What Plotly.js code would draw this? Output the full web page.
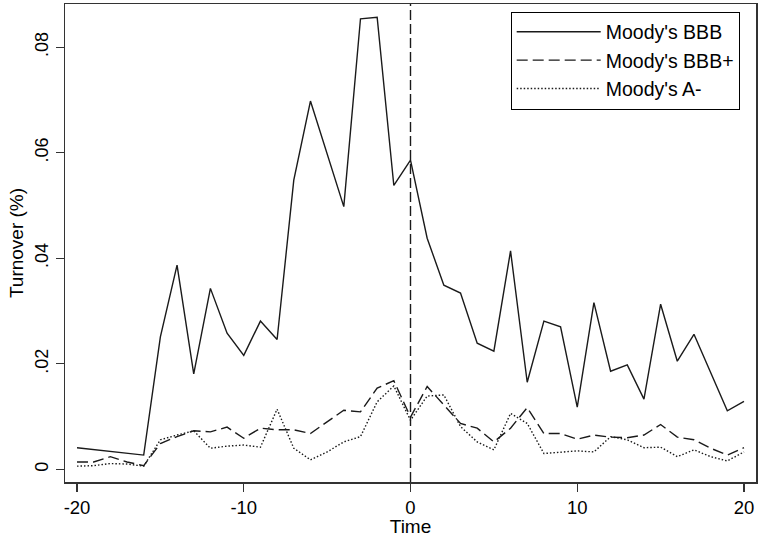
<!DOCTYPE html>
<html>
<head>
<meta charset="utf-8">
<script src="https://cdn.plot.ly/plotly-3.0.1.min.js"></script>
<style>html,body{margin:0;padding:0;background:#fff;}#chart{width:758px;height:537px;}</style>
</head>
<body>
<div id="chart"></div>
<script>
// Series names
const seriesNames = ["Moody's BBB", "Moody's BBB+", "Moody's A-"];

// Moody's BBB (solid)
const timeBBB = [-20,-16,-15,-14,-13,-12,-11,-10,-9,-8,-7,-6,-4,-3,-2,-1,0,1,2,3,4,5,6,7,8,9,10,11,12,13,14,15,16,17,19,20];
const turnoverBBB = [0.0041,0.0027,0.0251,0.0387,0.0181,0.0343,0.0258,0.0216,0.0281,0.0246,0.0548,0.0698,0.0498,0.0854,0.0857,0.0538,0.0586,0.0438,0.0349,0.0334,0.0239,0.0224,0.0414,0.0165,0.0281,0.0270,0.0118,0.0316,0.0186,0.0198,0.0133,0.0313,0.0205,0.0256,0.0111,0.0129];

// Moody's BBB+ (dashed)
const timeBBBplus = [-20,-19,-18,-17,-16,-15,-14,-13,-12,-11,-10,-9,-8,-7,-6,-5,-4,-3,-2,-1,0,1,2,3,4,5,6,7,8,9,10,11,12,13,14,15,16,17,18,19,20];
const turnoverBBBplus = [0.0014,0.0014,0.0024,0.0014,0.0007,0.0049,0.0062,0.0073,0.0071,0.0080,0.0059,0.0078,0.0075,0.0075,0.0068,0.0090,0.0112,0.0109,0.0154,0.0168,0.0099,0.0157,0.0122,0.0087,0.0078,0.0052,0.0078,0.0117,0.0068,0.0068,0.0057,0.0065,0.0061,0.0060,0.0065,0.0085,0.0061,0.0056,0.0040,0.0027,0.0041];

// Moody's A- (dotted)
const timeAminus = [-20,-19,-18,-17,-16,-15,-14,-13,-12,-11,-10,-9,-8,-7,-6,-5,-4,-3,-2,-1,0,1,2,3,4,5,6,7,8,9,10,11,12,13,14,15,16,17,18,19,20];
const turnoverAminus = [0.0006,0.0007,0.0011,0.0010,0.0006,0.0056,0.0065,0.0073,0.0040,0.0044,0.0046,0.0042,0.0114,0.0040,0.0018,0.0033,0.0052,0.0062,0.0128,0.0158,0.0093,0.0139,0.0141,0.0081,0.0052,0.0037,0.0106,0.0087,0.0030,0.0032,0.0035,0.0033,0.0062,0.0056,0.0041,0.0042,0.0024,0.0037,0.0024,0.0016,0.0033];

// Tick labels
const xTickVals = [-20,-10,0,10,20];
const xTickText = ["-20","-10","0","10","20"];
const yTickVals = [0,0.02,0.04,0.06,0.08];
const yTickText = ["0",".02",".04",".06",".08"];

// Event line position
const eventTime = 0;

const FONT = '"Liberation Sans", Arial, Helvetica, sans-serif';
const INK = '#1a1a1a';

const traces = [
  {x: timeBBB, y: turnoverBBB, name: seriesNames[0], type: 'scatter', mode: 'lines',
   line: {color: INK, width: 1.4, dash: 'solid'}},
  {x: timeBBBplus, y: turnoverBBBplus, name: seriesNames[1], type: 'scatter', mode: 'lines',
   line: {color: INK, width: 1.4, dash: '11px,5px'}},
  {x: timeAminus, y: turnoverAminus, name: seriesNames[2], type: 'scatter', mode: 'lines',
   line: {color: INK, width: 1.4, dash: '1.5px,2px'}}
];

const layout = {
  width: 758, height: 537,
  margin: {l: 65, r: 2, t: 4, b: 55, pad: 0},
  paper_bgcolor: '#fff', plot_bgcolor: '#fff',
  font: {family: FONT, color: '#000', size: 18},
  showlegend: true,
  legend: {
    x: 0.645, y: 0.984, xanchor: 'left', yanchor: 'top',
    bgcolor: '#fff', bordercolor: '#000', borderwidth: 1,
    font: {family: FONT, size: 19.5, color: '#000'},
    itemwidth: 84,
    entrywidth: 145, entrywidthmode: 'pixels'
  },
  xaxis: {
    range: [-20.72, 20.72],
    tickvals: xTickVals, ticktext: xTickText,
    ticks: 'outside', ticklen: 8, tickwidth: 1.2, tickcolor: '#333',
    showline: true, linecolor: '#333', linewidth: 1.5, mirror: true,
    showgrid: false, zeroline: false,
    tickfont: {family: FONT, size: 18.5, color: '#000'},
    title: {text: 'Time', font: {family: FONT, size: 19, color: '#000'}, standoff: 3}
  },
  yaxis: {
    range: [-0.0024, 0.0882],
    tickvals: yTickVals, ticktext: yTickText,
    tickangle: -90,
    ticks: 'outside', ticklen: 8, tickwidth: 1.2, tickcolor: '#333',
    showline: true, linecolor: '#333', linewidth: 1.5, mirror: true,
    showgrid: false, zeroline: false,
    tickfont: {family: FONT, size: 18, color: '#000'},
    title: {text: 'Turnover (%)', font: {family: FONT, size: 19, color: '#000'}, standoff: 3}
  },
  shapes: [{
    type: 'line', xref: 'x', yref: 'paper', x0: eventTime, x1: eventTime, y0: 0, y1: 1,
    line: {color: INK, width: 1.4, dash: '10px,4px'}
  }]
};

Plotly.newPlot('chart', traces, layout, {displayModeBar: false, staticPlot: true});
</script>
</body>
</html>
